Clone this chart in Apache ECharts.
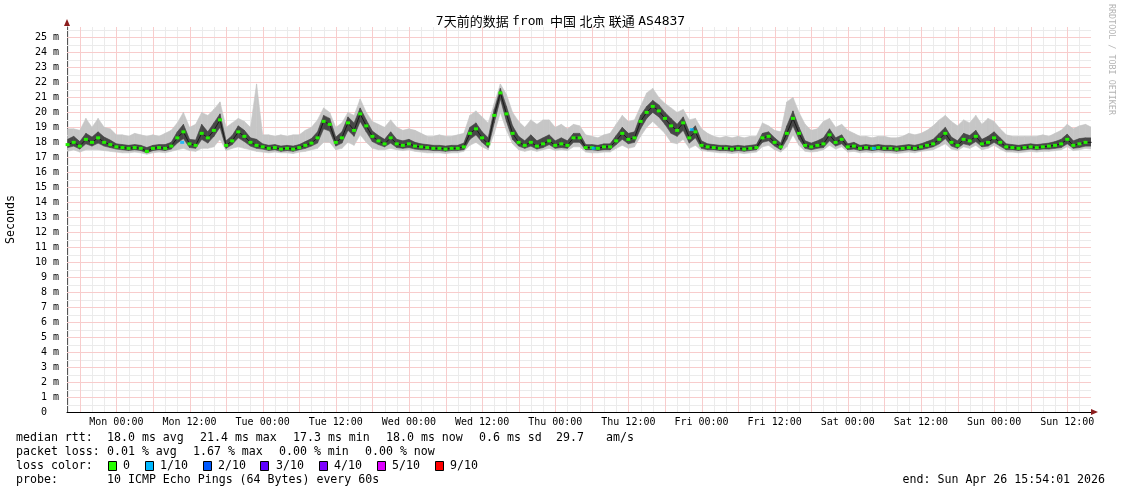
<!DOCTYPE html>
<html>
<head>
<meta charset="utf-8">
<script src="https://cdn.jsdelivr.net/npm/echarts@6/dist/echarts.min.js"></script>
<style>
html,body{margin:0;padding:0;background:#fff;}
#chart{width:1121px;height:494px;}
</style>
</head>
<body>
<div id="chart"></div>
<script>
// ---- data (milliseconds), one sample per hour, first sample = Sun 16:00 (hour -8 relative to Mon 00:00)
const firstHour = -8;
const median = [
  17.85, 18.0, 17.75, 18.2, 18.0, 18.3, 18.0, 17.85,
  17.7, 17.65, 17.6, 17.65, 17.6, 17.4, 17.6, 17.65, 17.6, 17.75, 18.3, 18.7, 17.9, 17.8, 18.6, 18.3, 18.8, 19.5, 17.8, 18.1, 18.7, 18.4, 18.0, 17.8,
  17.7, 17.6, 17.65, 17.55, 17.6, 17.55, 17.65, 17.8, 17.95, 18.3, 19.4, 19.2, 18.0, 18.3, 19.3, 18.8, 19.9, 19.1, 18.4, 18.1, 17.9, 18.3, 17.9, 17.8,
  17.9, 17.75, 17.7, 17.65, 17.6, 17.6, 17.55, 17.6, 17.6, 17.7, 18.6, 18.9, 18.3, 17.9, 19.8, 21.3, 19.9, 18.6, 18.0, 17.8, 18.0, 17.75, 17.9, 18.1,
  17.8, 17.9, 17.8, 18.3, 18.3, 17.65, 17.65, 17.6, 17.7, 17.7, 18.1, 18.6, 18.2, 18.3, 19.4, 20.0, 20.4, 20.1, 19.6, 19.1, 18.8, 19.3, 18.3, 18.7,
  17.8, 17.7, 17.65, 17.6, 17.6, 17.55, 17.6, 17.55, 17.6, 17.65, 18.3, 18.4, 18.0, 17.7, 18.6, 19.6, 18.6, 17.8, 17.7, 17.8, 17.9, 18.5, 18.0, 18.2,
  17.7, 17.75, 17.6, 17.65, 17.6, 17.65, 17.6, 17.6, 17.55, 17.6, 17.65, 17.6, 17.7, 17.8, 17.9, 18.2, 18.6, 18.0, 17.8, 18.2, 18.1, 18.4, 17.9, 18.0,
  18.3, 18.0, 17.7, 17.65, 17.6, 17.65, 17.7, 17.65, 17.7, 17.75, 17.8, 17.9, 18.2, 17.8, 17.9, 18.0, 18.0
];
const smokeMax = [
  18.9, 18.9, 18.8, 19.6, 19.0, 19.6, 19.0, 18.9,
  18.5, 18.5, 18.4, 18.6, 18.5, 18.4, 18.5, 18.4, 18.6, 18.8, 19.3, 20.0, 19.0, 19.2, 20.0, 19.8, 20.2, 20.7, 19.0, 19.3, 19.6, 19.4, 19.0, 21.9,
  18.5, 18.5, 18.4, 18.5, 18.4, 18.5, 18.5, 18.8, 19.0, 19.5, 20.3, 20.0, 19.0, 19.3, 20.0, 19.8, 20.9, 20.0, 19.4, 19.2, 19.0, 19.5, 19.0, 18.8,
  18.9, 18.8, 18.6, 18.4, 18.4, 18.5, 18.4, 18.4, 18.5, 18.6, 19.8, 20.1, 19.7, 19.3, 20.6, 21.9, 21.2, 20.0, 19.4, 19.0, 19.5, 19.2, 19.5, 19.5,
  19.0, 19.2, 18.9, 19.2, 19.1, 18.5, 18.4, 18.3, 18.5, 18.6, 19.2, 19.8, 19.4, 19.5, 20.4, 21.3, 21.6, 21.0, 20.6, 20.3, 20.0, 20.2, 19.5, 19.6,
  18.9, 18.6, 18.4, 18.3, 18.4, 18.3, 18.4, 18.3, 18.4, 18.4, 19.3, 19.1, 18.8, 18.7, 20.7, 21.0, 20.0, 19.2, 18.8, 18.9, 19.4, 19.6, 19.0, 19.2,
  18.8, 18.6, 18.4, 18.4, 18.3, 18.4, 18.4, 18.3, 18.3, 18.4, 18.6, 18.5, 18.6, 18.8, 19.1, 19.5, 19.8, 19.4, 19.1, 19.5, 19.3, 19.8, 19.2, 19.6,
  19.4, 18.9, 18.5, 18.4, 18.4, 18.4, 18.4, 18.4, 18.5, 18.4, 18.6, 18.8, 19.2, 18.9, 19.1, 19.2, 19.0
];
const smokeMin = [
  17.4, 17.5, 17.35, 17.5, 17.5, 17.5, 17.45, 17.4,
  17.35, 17.3, 17.3, 17.35, 17.3, 17.2, 17.3, 17.35, 17.3, 17.4, 17.5, 17.6, 17.45, 17.4, 17.6, 17.6, 17.7, 18.2, 17.45, 17.6, 17.7, 17.6, 17.5, 17.4,
  17.35, 17.3, 17.35, 17.3, 17.3, 17.25, 17.35, 17.4, 17.5, 17.6, 18.0, 18.0, 17.5, 17.6, 18.0, 17.8, 18.5, 18.0, 17.6, 17.5, 17.5, 17.6, 17.5, 17.45,
  17.5, 17.4, 17.35, 17.3, 17.3, 17.3, 17.25, 17.3, 17.3, 17.4, 17.8, 18.0, 17.7, 17.5, 18.6, 20.0, 18.8, 17.9, 17.5, 17.4, 17.5, 17.4, 17.5, 17.6,
  17.45, 17.5, 17.45, 17.7, 17.7, 17.35, 17.3, 17.3, 17.35, 17.35, 17.6, 17.8, 17.6, 17.7, 18.4, 19.0, 19.4, 19.0, 18.6, 18.0, 17.9, 18.2, 17.6, 17.8,
  17.45, 17.4, 17.35, 17.3, 17.3, 17.25, 17.3, 17.25, 17.3, 17.35, 17.7, 17.8, 17.5, 17.35, 17.7, 18.5, 17.8, 17.4, 17.35, 17.4, 17.5, 17.8, 17.55, 17.7,
  17.35, 17.4, 17.3, 17.35, 17.3, 17.35, 17.3, 17.3, 17.25, 17.3, 17.35, 17.3, 17.4, 17.45, 17.5, 17.7, 17.9, 17.55, 17.45, 17.7, 17.6, 17.8, 17.5, 17.6,
  17.8, 17.55, 17.35, 17.35, 17.3, 17.35, 17.4, 17.35, 17.4, 17.4, 17.45, 17.5, 17.7, 17.45, 17.5, 17.6, 17.55
];
const innerHi = [
  18.2, 18.4, 18.05, 18.6, 18.35, 18.7, 18.35, 18.15,
  17.9, 17.85, 17.8, 17.85, 17.8, 17.65, 17.8, 17.85, 17.85, 18.0, 18.7, 19.2, 18.2, 18.15, 19.2, 18.7, 19.3, 19.9, 18.1, 18.45, 19.1, 18.8, 18.3, 18.2,
  17.9, 17.8, 17.85, 17.75, 17.8, 17.75, 17.85, 18.05, 18.25, 18.7, 19.8, 19.6, 18.35, 18.7, 19.7, 19.3, 20.3, 19.5, 18.75, 18.45, 18.2, 18.7, 18.2, 18.1,
  18.2, 18.0, 17.9, 17.85, 17.8, 17.8, 17.75, 17.8, 17.8, 17.95, 19.0, 19.3, 18.7, 18.3, 20.2, 21.6, 20.4, 19.1, 18.4, 18.1, 18.5, 18.1, 18.3, 18.5,
  18.1, 18.3, 18.1, 18.6, 18.6, 17.85, 17.85, 17.8, 17.9, 17.9, 18.45, 19.0, 18.6, 18.7, 19.8, 20.4, 20.8, 20.5, 20.0, 19.6, 19.2, 19.7, 18.7, 19.1,
  18.1, 17.9, 17.85, 17.8, 17.8, 17.75, 17.8, 17.75, 17.8, 17.85, 18.6, 18.7, 18.3, 17.95, 19.1, 20.1, 19.0, 18.1, 17.95, 18.1, 18.3, 18.9, 18.3, 18.5,
  17.9, 18.0, 17.8, 17.85, 17.8, 17.85, 17.8, 17.8, 17.75, 17.8, 17.85, 17.8, 17.9, 18.05, 18.2, 18.6, 19.0, 18.35, 18.1, 18.6, 18.45, 18.8, 18.2, 18.4,
  18.7, 18.3, 17.9, 17.85, 17.8, 17.85, 17.9, 17.85, 17.9, 17.95, 18.05, 18.2, 18.55, 18.1, 18.25, 18.3, 18.3
];
const innerLo = [
  17.65, 17.75, 17.55, 17.9, 17.75, 17.95, 17.75, 17.65,
  17.55, 17.5, 17.45, 17.5, 17.45, 17.3, 17.45, 17.5, 17.45, 17.55, 17.95, 18.25, 17.65, 17.6, 18.2, 17.95, 18.4, 19.0, 17.6, 17.85, 18.3, 18.05, 17.75, 17.6,
  17.55, 17.45, 17.5, 17.4, 17.45, 17.4, 17.5, 17.6, 17.75, 17.95, 18.9, 18.75, 17.75, 17.95, 18.8, 18.4, 19.4, 18.7, 18.05, 17.85, 17.7, 17.95, 17.65, 17.6,
  17.65, 17.55, 17.5, 17.5, 17.45, 17.45, 17.4, 17.45, 17.45, 17.5, 18.2, 18.5, 18.0, 17.65, 19.3, 20.9, 19.4, 18.2, 17.75, 17.6, 17.75, 17.55, 17.65, 17.85,
  17.6, 17.65, 17.6, 18.0, 18.0, 17.5, 17.5, 17.45, 17.5, 17.5, 17.85, 18.2, 17.9, 18.0, 18.9, 19.6, 20.0, 19.7, 19.2, 18.6, 18.4, 18.8, 17.95, 18.3,
  17.6, 17.5, 17.5, 17.45, 17.45, 17.4, 17.45, 17.4, 17.45, 17.5, 18.0, 18.1, 17.75, 17.5, 18.2, 19.1, 18.2, 17.6, 17.5, 17.6, 17.65, 18.1, 17.75, 17.9,
  17.5, 17.55, 17.45, 17.5, 17.45, 17.5, 17.45, 17.45, 17.4, 17.45, 17.5, 17.45, 17.5, 17.6, 17.7, 17.9, 18.25, 17.75, 17.6, 17.9, 17.8, 18.05, 17.7, 17.75,
  18.0, 17.75, 17.5, 17.5, 17.45, 17.5, 17.55, 17.5, 17.55, 17.55, 17.6, 17.65, 17.9, 17.6, 17.65, 17.75, 17.75
];
// samples with 1/10 packet loss: [hours after Mon 00:00, median ms]
const lossOneTenth = [[10.8, 18.0], [78.3, 17.6], [94.4, 18.85], [124.3, 17.6]];

const xTickHours = [0, 12, 24, 36, 48, 60, 72, 84, 96, 108, 120, 132, 144, 156];
const xTickLabels = ['Mon 00:00','Mon 12:00','Tue 00:00','Tue 12:00','Wed 00:00','Wed 12:00','Thu 00:00','Thu 12:00','Fri 00:00','Fri 12:00','Sat 00:00','Sat 12:00','Sun 00:00','Sun 12:00'];
const xMin = -8.1, xMax = 159.9;   // Sun 15:54:01 .. Sun 15:54:01, hours relative to Mon 00:00
const yMin = 0, yMax = 25.7;

const statSegments = [
  // [line index, x, text]
  [0, 16, 'median rtt:'], [0, 107, '18.0 ms avg'], [0, 200, '21.4 ms max'], [0, 293, '17.3 ms min'],
  [0, 386, '18.0 ms now'], [0, 479, '0.6 ms sd'], [0, 556, '29.7'], [0, 606, 'am/s'],
  [1, 16, 'packet loss:'], [1, 107, '0.01 % avg'], [1, 193, '1.67 % max'], [1, 279, '0.00 % min'], [1, 365, '0.00 % now'],
  [2, 16, 'loss color:'],
  [3, 16, 'probe:'], [3, 107, '10 ICMP Echo Pings (64 Bytes) every 60s']
];
const endText = 'end: Sun Apr 26 15:54:01 2026';
const lossLabels = ['0', '1/10', '2/10', '3/10', '4/10', '5/10', '9/10'];
const lossColors = ['#26ff00', '#00b8ff', '#0059ff', '#5e00ff', '#7e00ff', '#dd00ff', '#ff0000'];

// ---- build
const hours = median.map((_, i) => firstHour + i);
const pairs = arr => arr.map((v, i) => [hours[i], v]);
// band segments between consecutive samples: [h0, h1, lo0, hi0, lo1, hi1]
const bandSegments = (lo, hi) => {
  const out = [];
  for (let i = 0; i < hours.length - 1; i++) out.push([hours[i], hours[i + 1], lo[i], hi[i], lo[i + 1], hi[i + 1]]);
  return out;
};
const clipOf = cs => ({type: 'rect', shape: {x: cs.x, y: cs.y, width: cs.width, height: cs.height}});
const bandRender = color => (params, api) => {
  const a = api.coord([api.value(0), api.value(2)]);
  const b = api.coord([api.value(0), api.value(3)]);
  const c = api.coord([api.value(1), api.value(5)]);
  const d = api.coord([api.value(1), api.value(4)]);
  return {
    type: 'polygon',
    shape: {points: [a, b, c, d]},
    style: {fill: color, stroke: color, lineWidth: 0.6},
    clipPath: clipOf(params.coordSys)
  };
};

const MONO = '"DejaVu Sans Mono", monospace';
const RED = '#f8cccc', GREY = '#ebebeb';
// grid line positions (hours / ms)
const vMinor = [], vMajor = [], hMinor = [], hMajor = [];
for (let h = -8; h <= 158; h += 2) ((((h % 6) + 6) % 6 === 0) ? vMajor : vMinor).push([h]);
for (let k = 1; k <= 51; k++) (k % 2 === 0 ? hMajor : hMinor).push([k * 0.5]);
// grid lines drawn as 1px-wide filled rects (crisp, exact colour)
const vLineRender = color => (params, api) => {
  const cs = params.coordSys;
  const x = Math.round(api.coord([api.value(0), 0])[0]);
  return {type: 'rect', shape: {x: x, y: cs.y, width: 1, height: cs.height},
    style: {fill: color, stroke: null}};
};
const hLineRender = color => (params, api) => {
  const cs = params.coordSys;
  const y = Math.round(api.coord([0, api.value(0)])[1]);
  return {type: 'rect', shape: {x: cs.x, y: y, width: cs.width, height: 1},
    style: {fill: color, stroke: null}};
};

const lossBoxX = [108, 145, 203, 260, 319, 377, 435];
const lossTextX = [123, 160, 218, 276, 334, 392, 450];
const lineY = [438, 452, 466, 480];

const graphics = [];
statSegments.forEach(s => graphics.push({
  type: 'text', x: s[1], y: lineY[s[0]],
  style: {text: s[2], fill: '#000', font: '11.6px ' + MONO, verticalAlign: 'middle', align: 'left'}
}));
lossLabels.forEach((t, i) => {
  graphics.push({type: 'rect', shape: {x: lossBoxX[i] + 0.5, y: 461.5, width: 8, height: 9},
    style: {fill: lossColors[i], stroke: '#000', lineWidth: 1}});
  graphics.push({type: 'text', x: lossTextX[i], y: lineY[2],
    style: {text: t, fill: '#000', font: '11.6px ' + MONO, verticalAlign: 'middle', align: 'left'}});
});
graphics.push({type: 'text', x: 1105, y: lineY[3],
  style: {text: endText, fill: '#000', font: '11.6px ' + MONO, verticalAlign: 'middle', align: 'right'}});
graphics.push({type: 'text', x: 1111, y: 4, rotation: -Math.PI / 2,
  style: {text: 'RRDTOOL / TOBI OETIKER', fill: '#b4b4b4', font: '8.4px ' + MONO, verticalAlign: 'middle', align: 'left'}});
// axis arrows
graphics.push({type: 'polygon', shape: {points: [[67, 19], [64, 26], [70, 26]]}, style: {fill: '#8b1c1c'}, z: 100});
graphics.push({type: 'polygon', shape: {points: [[1098, 412], [1091, 409], [1091, 415]]}, style: {fill: '#8b1c1c'}, z: 100});

const gridSeries = (data, render, z) => ({type: 'custom', data, renderItem: render, z, silent: true,
  encode: {x: 0, y: 0}});

const chart = echarts.init(document.getElementById('chart'), null, {renderer: 'canvas'});
chart.setOption({
  animation: false,
  backgroundColor: '#ffffff',
  title: {
    text: '{m|7}{c|天前的数据}{s| }{m|from}{s|  }{c|中国}{s| }{c|北京}{s| }{c|联通}{s| }{m|AS4837}',
    left: 'center', top: 10,
    textStyle: {
      fontSize: 13, fontWeight: 'normal', color: '#000',
      rich: {
        m: {fontFamily: MONO, fontSize: 13, color: '#000'},
        c: {fontFamily: '"Noto Sans CJK SC"', fontSize: 13, color: '#000'},
        s: {fontFamily: '"Noto Sans"', fontSize: 13, color: '#000'}
      }
    }
  },
  graphic: graphics,
  grid: {left: 67, right: 30, top: 27, bottom: 82, containLabel: false, outerBoundsMode: 'none'},
  xAxis: {
    type: 'value', min: xMin, max: xMax,
    axisLine: {show: true, onZero: false, lineStyle: {color: '#000', width: 1}},
    axisTick: {show: false},
    splitLine: {show: false},
    axisLabel: {
      customValues: xTickHours,
      formatter: v => { const i = xTickHours.indexOf(Math.round(v)); return i >= 0 ? xTickLabels[i] : ''; },
      fontFamily: MONO, fontSize: 10, color: '#000', margin: 5
    }
  },
  yAxis: {
    type: 'value', min: yMin, max: yMax, interval: 1,
    name: 'Seconds', nameLocation: 'middle', nameGap: 50,
    nameTextStyle: {fontFamily: MONO, fontSize: 11.6, color: '#000'},
    axisLine: {show: true, onZero: false, lineStyle: {color: '#555', width: 1}},
    axisTick: {show: false},
    splitLine: {show: false},
    axisLabel: {
      showMaxLabel: false,
      formatter: v => v === 0 ? '0  ' : (v + ' m'),
      fontFamily: MONO, fontSize: 10, color: '#000', margin: 8
    }
  },
  series: [
    gridSeries(vMinor, vLineRender(GREY), 1),
    gridSeries(hMinor, hLineRender(GREY), 1),
    gridSeries(vMajor, vLineRender(RED), 1.5),
    gridSeries(hMajor, hLineRender(RED), 1.5),
    {type: 'custom', data: bandSegments(smokeMin, smokeMax), renderItem: bandRender('#c6c6c6'), z: 2, silent: true,
      encode: {x: [0, 1], y: [2, 3, 4, 5]}},
    {type: 'custom', data: bandSegments(innerLo, innerHi), renderItem: bandRender('#474747'), z: 3, silent: true,
      encode: {x: [0, 1], y: [2, 3, 4, 5]}},
    {type: 'line', data: pairs(median), z: 4, silent: true,
      symbol: 'rect', symbolSize: [4, 3], showSymbol: true, showAllSymbol: true,
      lineStyle: {color: '#1a1a1a', width: 1},
      itemStyle: {color: '#22f000', borderWidth: 0}},
    {type: 'scatter', data: lossOneTenth, z: 5, silent: true,
      symbol: 'rect', symbolSize: [4, 3], itemStyle: {color: '#00b8ff'}}
  ]
});
</script>
</body>
</html>
